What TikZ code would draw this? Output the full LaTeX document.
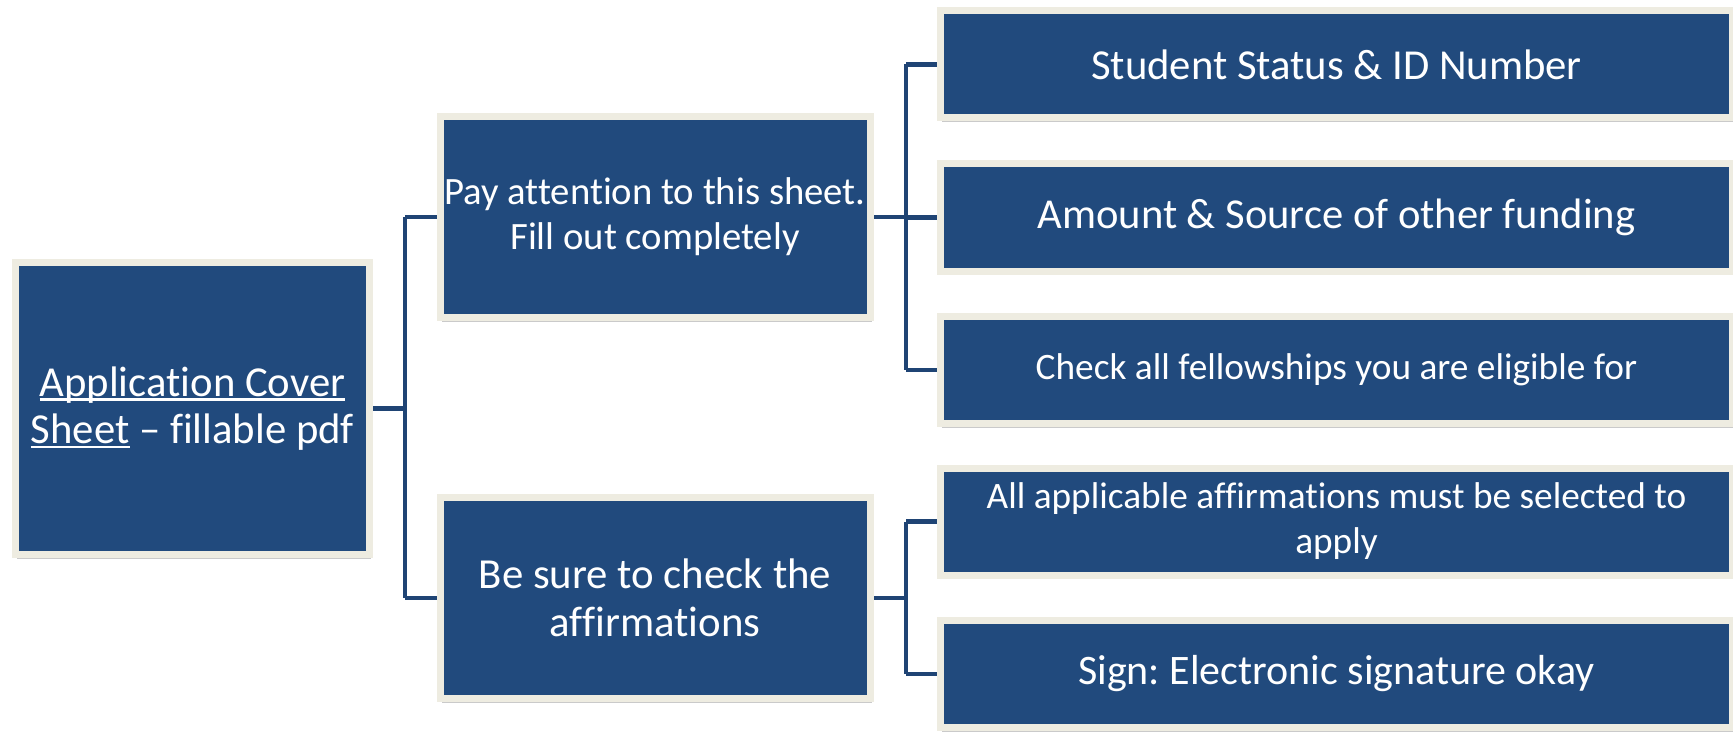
\documentclass[tikz,border=0pt]{standalone}
\usepackage{fontspec}
\setmainfont[Ligatures={TeX,NoCommon}]{Carlito}
\usetikzlibrary{shadows,backgrounds}
\definecolor{boxblue}{RGB}{33,74,125}
\definecolor{linkblue}{RGB}{31,68,116}
\definecolor{cream}{RGB}{238,236,225}
\newcommand\myul[1]{\setbox0\hbox{#1}\rlap{\rule[-0.11em]{\wd0}{0.055em}}\box0\relax}
\frenchspacing
\tikzset{
  sabox/.style={draw=cream, line width=7pt, fill=boxblue, text=white,
    inner sep=0pt, outer sep=0pt, align=center,
    drop shadow={shadow xshift=1.5pt, shadow yshift=-4pt, opacity=0.35, fill=black!60}},
  rootbox/.style={sabox, minimum width=354pt, minimum height=292pt},
  midbox/.style={sabox, minimum width=430pt, minimum height=201pt},
  leafbox/.style={sabox, minimum width=792pt, minimum height=107pt},
  link/.style={draw=linkblue, line width=4.5pt}
}
\begin{document}
\begin{tikzpicture}[x=1pt,y=-1pt]
\useasboundingbox (0,0) rectangle (1733,733);
\node[rootbox, font=\fontsize{42.7}{47.5}\selectfont] (root) at (192.5,408.5) {\myul{Application Cover}\\\myul{Sheet} -- fillable pdf};
\node[midbox, font=\fontsize{38.7}{45}\selectfont] (m1) at (655,217) {Pay attention to this sheet.\\Fill out completely};
\node[midbox, font=\fontsize{42.8}{48.5}\selectfont] (m2) at (655,598) {Be sure to check the\\affirmations};
\node[leafbox, font=\fontsize{42.7}{46}\selectfont] (l1) at (1336.5,64.5) {Student Status \& ID Number};
\node[leafbox, font=\fontsize{42.6}{46}\selectfont] (l2) at (1336.5,217.5) {Amount \& Source of other funding};
\node[leafbox, font=\fontsize{37.3}{40}\selectfont] (l3) at (1336.5,370) {Check all fellowships you are eligible for};
\node[leafbox, font=\fontsize{37.3}{45}\selectfont] (l4) at (1336.5,521.5) {All applicable affirmations must be selected to\\apply};
\node[leafbox, font=\fontsize{42}{46}\selectfont] (l5) at (1336.5,674) {Sign: Electronic signature okay};
\begin{scope}[on background layer]
\coordinate (j0) at (405,408.5);
\coordinate (j1) at (906,217);
\coordinate (j2) at (906,598);
\draw[link] (root.east) -- (j0);
\draw[link] (j0 |- m1.west) -- (m1.west);
\draw[link] (j0 |- m2.west) -- (m2.west);
\draw[link] (j0 |- m1.west) -- (j0 |- m2.west);
\draw[link] (m1.east) -- (j1);
\draw[link] (j1 |- l1.west) -- (j1 |- l3.west);
\draw[link] (j1 |- l1.west) -- (l1.west);
\draw[link] (j1 |- l2.west) -- (l2.west);
\draw[link] (j1 |- l3.west) -- (l3.west);
\draw[link] (m2.east) -- (j2);
\draw[link] (j2 |- l4.west) -- (j2 |- l5.west);
\draw[link] (j2 |- l4.west) -- (l4.west);
\draw[link] (j2 |- l5.west) -- (l5.west);
\end{scope}
\end{tikzpicture}
\end{document}
